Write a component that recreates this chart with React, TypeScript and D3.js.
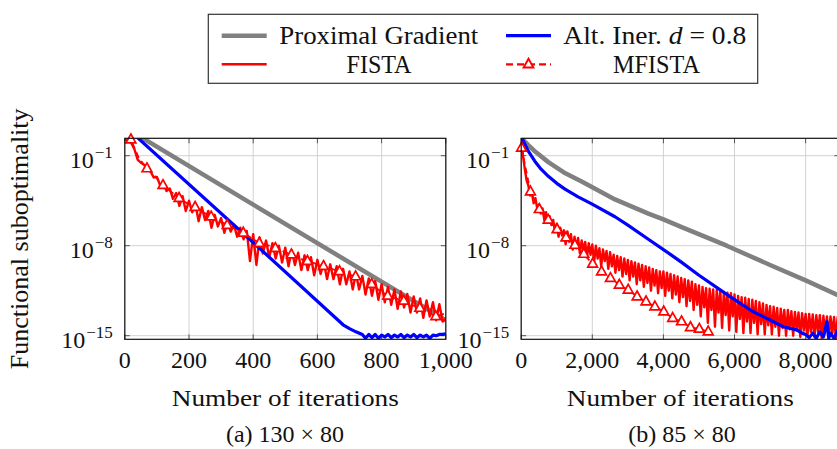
import React from "react";
import * as d3 from "d3";

const W = 837;
const H = 449;
const FONT = "Liberation Serif";

// ---------- axes / ticks ----------
const xTicksA = [0, 200, 400, 600, 800, 1000];
const xTicksB = [0, 2000, 4000, 6000, 8000];
const yTickExps = [-1, -8, -15];

// ---------- panel (a) 130 x 80 : values are log10 of functional suboptimality ----------
const pgIterA = [0, 400, 1000];
const pgLogA = [1.2, -4.8, -13.8];

const blueIterA = [0, 400, 680, 700, 720, 740, 750, 760, 770, 780, 790, 800, 810, 820, 830, 840, 850, 860, 870, 880, 890, 900, 910, 920, 930, 940, 950, 960, 970, 980, 990, 1000];
const blueLogA = [1.3, -7.75, -14.15, -14.45, -14.7, -14.9, -15.2, -14.9, -15.15, -14.9, -15.2, -14.95, -15.1, -14.9, -15.15, -14.95, -15.1, -14.9, -15.15, -14.95, -15.1, -14.9, -15.15, -14.95, -15.1, -14.95, -15.2, -14.95, -15.0, -14.9, -14.9, -14.85];

const fistaStepA = 10;
const fistaLogA = [
  0.25, 0.2, 0.0, -0.5, -1.3, -1.55, -1.7, -2.1, -2.2, -2.7,
  -2.65, -3.3, -3.15, -3.75, -3.55, -4.35, -3.9, -4.9, -4.15, -5.3,
  -4.5, -5.4, -4.75, -6.1, -5.0, -6.0, -5.3, -6.6, -5.6, -6.5,
  -5.85, -7.0, -6.1, -6.9, -6.35, -7.3, -6.6, -7.5, -6.85, -9.2,
  -7.1, -9.5, -7.35, -8.6, -7.6, -8.9, -7.8, -9.0, -8.0, -9.3,
  -8.15, -9.6, -8.35, -9.5, -8.55, -9.9, -8.75, -9.9, -8.9, -10.3,
  -9.1, -10.2, -9.25, -10.6, -9.45, -10.6, -9.6, -11.0, -9.8, -11.0,
  -10.0, -11.4, -10.15, -11.4, -10.35, -11.8, -10.55, -11.9, -10.75, -12.2,
  -11.0, -12.4, -11.2, -12.6, -11.4, -12.9, -11.55, -12.8, -11.75, -13.2,
  -11.95, -13.2, -12.1, -13.6, -12.25, -13.5, -12.4, -13.8, -12.55, -13.9,
  -13.7,
];

const mfIterA = [0, 19, 44, 69, 94, 119, 144, 169, 194, 219, 244, 269, 294, 319, 344, 369, 394, 419, 444, 469, 494, 519, 544, 569, 594, 619, 644, 669, 694, 719, 744, 769, 794, 819, 844, 869, 894, 919, 944, 969, 994, 1000];
const mfLogA = [0.3, 0.25, -1.2, -2.0, -2.6, -3.3, -3.8, -4.3, -4.7, -5.0, -5.4, -5.75, -6.05, -6.4, -6.7, -7.0, -7.4, -7.8, -7.95, -8.2, -8.45, -8.7, -9.0, -9.2, -9.4, -9.6, -9.8, -10.0, -10.2, -10.4, -10.7, -11.0, -11.5, -11.9, -12.1, -12.3, -12.6, -12.85, -13.2, -13.5, -13.3, -13.4];
const mfMarkIterA = [19, 69, 119, 169, 219, 269, 319, 369, 419, 469, 519, 569, 619, 669, 719, 769, 819, 869, 919, 969];

// ---------- panel (b) 85 x 80 ----------
const pgIterB = [0, 60, 200, 400, 763, 1200, 1700, 2000, 2638, 3576, 4000, 4514, 5780, 7000, 8000, 8950];
const pgLogB = [0.45, 0.22, -0.17, -0.7, -1.5, -2.3, -3.0, -3.45, -4.4, -5.5, -5.95, -6.55, -8.0, -9.5, -10.7, -11.9];

const blueIterB = [0, 60, 200, 388, 560, 763, 1000, 1232, 1600, 1983, 2638, 3000, 3576, 4185, 4514, 5000, 5873, 6500, 6998, 7373, 7749, 7900, 8000, 8100, 8200, 8300, 8400, 8500, 8600, 8650, 8700, 8800, 8900, 8950];
const blueLogB = [0.5, 0.15, -0.65, -1.45, -2.05, -2.6, -3.15, -3.6, -4.2, -4.75, -5.75, -6.4, -7.5, -8.65, -9.3, -10.3, -11.96, -13.1, -13.78, -14.3, -14.55, -14.8, -14.9, -15.15, -14.8, -15.2, -14.7, -15.1, -13.9, -15.2, -14.8, -15.2, -14.6, -15.0];

const fistaStepB = 50;
const fistaLogB = [
  0.4, -1.0, -2.0, -2.9, -3.3, -4.1, -3.9, -4.7, -4.3, -5.1,
  -4.8, -5.5, -5.1, -6.0, -5.4, -6.2, -5.7, -6.4, -6.0, -6.9,
  -6.3, -7.3, -6.6, -7.2, -6.8, -7.9, -6.9, -7.7, -7.1, -8.3,
  -7.3, -8.2, -7.4, -8.6, -7.6, -8.4, -7.7, -8.9, -7.8, -8.7,
  -7.9, -9.3, -8.0, -9.0, -8.2, -9.6, -8.3, -9.2, -8.4, -9.8,
  -8.5, -9.6, -8.7, -10.1, -8.8, -9.9, -8.9, -10.4, -9.0, -10.2,
  -9.1, -10.7, -9.2, -10.4, -9.3, -11.0, -9.4, -10.7, -9.5, -11.2,
  -9.6, -10.9, -9.7, -11.5, -9.8, -11.1, -9.9, -11.7, -10.0, -11.3,
  -10.0, -11.9, -10.1, -11.5, -10.2, -12.1, -10.3, -11.8, -10.4, -12.4,
  -10.5, -12.0, -10.6, -12.7, -10.7, -12.3, -10.8, -13.0, -11.0, -12.6,
  -11.1, -13.5, -11.2, -12.8, -11.3, -14.0, -11.35, -13.0, -11.4, -14.3,
  -11.45, -13.2, -11.5, -14.4, -11.6, -13.4, -11.65, -14.6, -11.7, -13.5,
  -11.8, -14.7, -11.9, -13.7, -12.0, -14.8, -12.05, -13.9, -12.15, -14.8,
  -12.2, -14.0, -12.3, -14.9, -12.4, -14.1, -12.5, -14.9, -12.6, -14.2,
  -12.7, -14.9, -12.75, -14.3, -12.85, -15.0, -12.9, -14.4, -13.0, -15.0,
  -13.0, -14.5, -13.1, -15.0, -13.15, -14.6, -13.2, -15.1, -13.25, -14.6,
  -13.3, -15.1, -13.3, -14.7, -13.35, -15.1, -13.4, -14.7, -13.4, -15.2,
  -13.45, -14.8, -13.5, -15.1, -13.5, -14.8, -13.55, -15.2, -13.55, -14.8,
];

const mfIterB = [10, 260, 510, 760, 1010, 1260, 1510, 1760, 2010, 2260, 2510, 2760, 3010, 3260, 3510, 3760, 4010, 4260, 4510, 4760, 5010, 5260];
const mfLogB = [-0.4, -3.8, -5.17, -6.0, -6.73, -7.37, -7.95, -8.65, -9.42, -10.02, -10.53, -11.05, -11.44, -11.96, -12.35, -12.74, -13.13, -13.64, -13.9, -14.35, -14.48, -14.69];
const mfMarkIterB = mfIterB;

// ---------- legend ----------
const legendLabels = ["Proximal Gradient", "Alt. Iner.", "FISTA", "MFISTA"];

// ---------- styles ----------
const GREY = "#808080";
const BLUE = "#0000ff";
const RED = "#ff0000";

const TOP = 138.3;
const BOTTOM = 339.3;

const yScale = d3
  .scaleLog()
  .domain([Math.pow(10, 0.353), Math.pow(10, -15.28)])
  .range([TOP, BOTTOM]);

type Pt = [number, number];
const zip = (xs: number[], ys: number[]): Pt[] => xs.map((x, i) => [x, ys[i]]);

const triPath = "M0,-5.6L4.9,3.2L-4.9,3.2Z";

function Panel(props: {
  id: string;
  left: number;
  right: number;
  xMax: number;
  xTicks: number[];
  grey: Pt[];
  blue: Pt[];
  fista: Pt[];
  mf: Pt[];
  mfMarks: Pt[];
  xlabel: string;
  caption: string;
  captionX: number;
}) {
  const { id, left, right, xMax, xTicks } = props;
  const x = d3.scaleLinear().domain([0, xMax]).range([left, right]);
  const line = d3
    .line<Pt>()
    .x((d) => x(d[0]))
    .y((d) => yScale(Math.pow(10, d[1])));
  const fmt = d3.format(",");
  const cx = (left + right) / 2;
  return (
    <g>
      <defs>
        <clipPath id={`clip-${id}`}>
          <rect x={left} y={TOP} width={right - left} height={BOTTOM - TOP} />
        </clipPath>
      </defs>
      {xTicks.map((t) => (
        <line key={"gx" + t} x1={x(t)} x2={x(t)} y1={TOP} y2={BOTTOM} stroke="#d2d2d2" strokeWidth={1} />
      ))}
      {yTickExps.map((e) => (
        <line key={"gy" + e} x1={left} x2={right} y1={yScale(Math.pow(10, e))} y2={yScale(Math.pow(10, e))} stroke="#d2d2d2" strokeWidth={1} />
      ))}
      {xTicks.map((t) => (
        <g key={"tx" + t} stroke="#555" strokeWidth={1}>
          <line x1={x(t)} x2={x(t)} y1={BOTTOM} y2={BOTTOM - 5} />
          <line x1={x(t)} x2={x(t)} y1={TOP} y2={TOP + 5} />
        </g>
      ))}
      {yTickExps.map((e) => (
        <g key={"ty" + e} stroke="#555" strokeWidth={1}>
          <line x1={left} x2={left + 5} y1={yScale(Math.pow(10, e))} y2={yScale(Math.pow(10, e))} />
          <line x1={right} x2={right - 5} y1={yScale(Math.pow(10, e))} y2={yScale(Math.pow(10, e))} />
        </g>
      ))}
      <g clipPath={`url(#clip-${id})`} fill="none" strokeLinejoin="round">
        <path d={line(props.grey) || ""} stroke={GREY} strokeWidth={4.5} />
        <path d={line(props.fista) || ""} stroke={RED} strokeWidth={2.4} />
        <path d={line(props.blue) || ""} stroke={BLUE} strokeWidth={3.2} />
        <path d={line(props.mf) || ""} stroke={RED} strokeWidth={1.8} strokeDasharray="6,4" />
      </g>
      {props.mfMarks.map((d, i) => (
        <path
          key={"m" + i}
          d={triPath}
          transform={`translate(${x(d[0])},${yScale(Math.pow(10, d[1]))})`}
          fill="white"
          stroke={RED}
          strokeWidth={1.7}
        />
      ))}
      <rect x={left} y={TOP} width={right - left} height={BOTTOM - TOP} fill="none" stroke="#111" strokeWidth={1.2} />
      {xTicks.map((t) => (
        <text key={"lx" + t} x={x(t)} y={368} textAnchor="middle" fontSize={24} fontFamily={FONT} fill="#111">
          {fmt(t)}
        </text>
      ))}
      {yTickExps.map((e) => (
        <text
          key={"ly" + e}
          x={left - 12}
          y={yScale(Math.pow(10, e)) + 12}
          textAnchor="end"
          fontSize={24}
          fontFamily={FONT}
          fill="#111"
        >
          10
          <tspan fontSize={17} dy={-10} dx={1}>
            {"\u2212" + Math.abs(e)}
          </tspan>
        </text>
      ))}
      <text x={cx} y={406} textAnchor="middle" fontSize={24} fontFamily={FONT} fill="#111" textLength={227} lengthAdjust="spacingAndGlyphs">
        {props.xlabel}
      </text>
      <text x={props.captionX} y={442} textAnchor="middle" fontSize={24} fontFamily={FONT} fill="#111">
        {props.caption}
      </text>
    </g>
  );
}

function Legend() {
  const r1 = 35.7;
  const r2 = 64.3;
  return (
    <g fontFamily={FONT} fill="#111">
      <rect x={208.3} y={14.3} width={549.4} height={69} fill="white" stroke="#333" strokeWidth={1.2} />
      <line x1={221.7} x2={266.7} y1={r1} y2={r1} stroke={GREY} strokeWidth={4.5} />
      <text x={279.3} y={r1 + 8.6} fontSize={25} fontFamily={FONT} textLength={199} lengthAdjust="spacingAndGlyphs">
        {legendLabels[0]}
      </text>
      <line x1={506} x2={551} y1={r1} y2={r1} stroke={BLUE} strokeWidth={3.2} />
      <text x={563.3} y={r1 + 8.6} fontSize={25} fontFamily={FONT} textLength={183} lengthAdjust="spacingAndGlyphs">
        {legendLabels[1] + " "}
        <tspan fontStyle="italic">d</tspan>
        {" = 0.8"}
      </text>
      <line x1={221.7} x2={266.7} y1={r2} y2={r2} stroke={RED} strokeWidth={2.4} />
      <text x={379} y={r2 + 8.8} fontSize={25} fontFamily={FONT} textAnchor="middle" textLength={65} lengthAdjust="spacingAndGlyphs">
        {legendLabels[2]}
      </text>
      <line x1={506} x2={551} y1={r2} y2={r2} stroke={RED} strokeWidth={2.2} strokeDasharray="7,4" />
      <path d={triPath} transform={`translate(528.5,${r2})`} fill="white" stroke={RED} strokeWidth={1.9} />
      <text x={656.4} y={r2 + 8.8} fontSize={25} fontFamily={FONT} textAnchor="middle" textLength={87} lengthAdjust="spacingAndGlyphs">
        {legendLabels[3]}
      </text>
    </g>
  );
}

export default function App() {
  const fistaA = zip(fistaLogA.map((_, i) => i * fistaStepA), fistaLogA);
  const fistaB = zip(fistaLogB.map((_, i) => i * fistaStepB), fistaLogB);
  const mfMarksA = zip(mfIterA, mfLogA).filter((d) => mfMarkIterA.includes(d[0]));
  const mfMarksB = zip(mfIterB, mfLogB).filter((d) => mfMarkIterB.includes(d[0]));
  return (
    <svg
      width={W}
      height={H}
      viewBox={`0 0 ${W} ${H}`}
      style={{ position: "absolute", left: 0, top: 0, background: "white" }}
    >
      <rect x={0} y={0} width={W} height={H} fill="white" />
      <Legend />
      <text
        transform="translate(28,238.8) rotate(-90)"
        textAnchor="middle"
        fontSize={26}
        fontFamily={FONT}
        fill="#111"
      >
        Functional suboptimality
      </text>
      <Panel
        id="a"
        left={124.8}
        right={445.8}
        xMax={1000}
        xTicks={xTicksA}
        grey={zip(pgIterA, pgLogA)}
        blue={zip(blueIterA, blueLogA)}
        fista={fistaA}
        mf={zip(mfIterA, mfLogA)}
        mfMarks={mfMarksA}
        xlabel="Number of iterations"
        caption={"(a) 130 \u00d7 80"}
        captionX={285}
      />
      <Panel
        id="b"
        left={521.2}
        right={839.4}
        xMax={8950}
        xTicks={xTicksB}
        grey={zip(pgIterB, pgLogB)}
        blue={zip(blueIterB, blueLogB)}
        fista={fistaB}
        mf={zip(mfIterB, mfLogB)}
        mfMarks={mfMarksB}
        xlabel="Number of iterations"
        caption={"(b) 85 \u00d7 80"}
        captionX={682}
      />
    </svg>
  );
}
